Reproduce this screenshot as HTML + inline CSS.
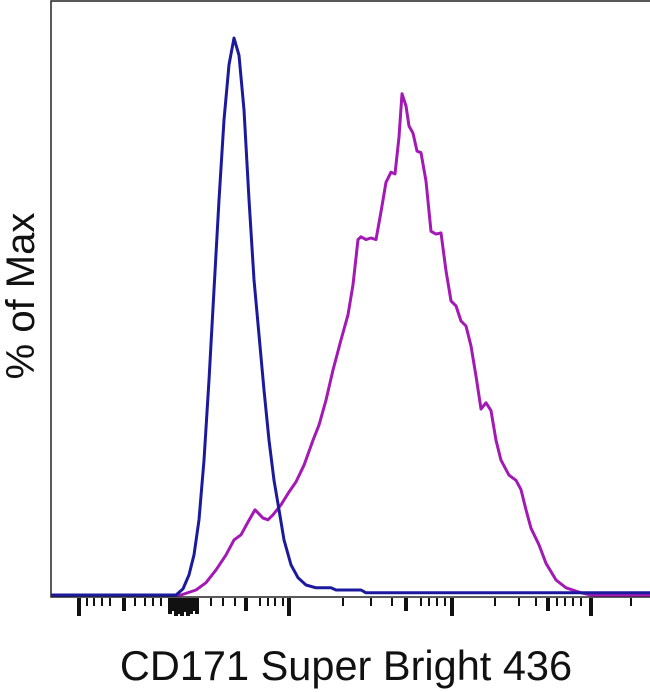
<!DOCTYPE html>
<html><head><meta charset="utf-8"><style>
html,body{margin:0;padding:0;background:#fff;width:650px;height:692px;overflow:hidden}
svg{display:block}
text{font-family:"Liberation Sans",Arial,sans-serif;fill:#111}
</style></head><body>
<svg id="chart" width="650" height="692">
<rect x="51" y="1" width="610" height="596" fill="none" stroke="#222" stroke-width="1.5"/>
<g id="ticks"></g>
<g id="series"></g>
<text x="346" y="680" font-size="41.5" text-anchor="middle">CD171 Super Bright 436</text>
<text transform="translate(34,296) rotate(-90)" font-size="40" text-anchor="middle">% of Max</text>
</svg>
<script>
// channel (0-600) and % of max
const blueX = [0,125,132,138,143,148,153,158,163,168,173,178,183,188,193,198,203,208,213,218,223,228,233,240,247,255,265,280,285,310,315,600];
const blueY = [0,0,1.1,3.6,7.2,13.5,24.2,38.6,54.8,70.9,85.3,95.2,100,96.9,87.1,71.0,56.6,46.7,36.8,27.8,20.6,15.3,9.9,5.4,3.1,1.8,1.3,1.3,0.9,0.9,0.4,0.4];
const magX = [0,130,145,155,165,175,183,190,197,204,212,217,222,230,238,245,253,262,268,275,282,290,297,302,307,310,315,320,325,330,335,340,344,348,351,355,358,362,366,370,375,380,385,390,395,400,405,410,415,420,425,430,435,440,445,450,458,465,470,475,480,488,495,505,515,530,540,600];
const magY = [0,0,0.9,2.2,4.5,7.2,9.9,10.8,13.1,15.3,13.8,13.5,14.4,16.2,18.5,20.3,23.3,27.8,30.5,35.0,40.4,45.8,50.3,55.7,63.8,64.3,63.8,64.1,63.8,68.8,74.1,75.9,75.6,82.2,90.0,87.8,84.2,82.9,79.7,79.4,74.3,65.3,64.8,65.0,58.2,52.8,51.9,49.2,48.3,44.7,39.3,33.4,34.5,33.1,27.8,24.2,21.5,20.6,18.9,15.3,12.0,9.0,5.7,2.7,1.3,0.4,0,0];
const tickPx = [79,87,94,102,110,124,135,145,153,161,170,173,176,179,182,185,188,191,194,197,211,223,235,246,260,268,275,283,289,343,371,392,406,421,429,437,445,452,495,519,536,548,557,565,573,581,591,631];
const tickLen = [18,8,8,8,8,13,8,8,8,8,16,13,18,16,18,14,18,16,13,16,8,8,8,13,8,8,8,8,18,8,8,8,13,8,8,8,8,18,8,8,8,13,8,8,8,8,18,8];

const x0=51, xw=600, yBase=595, yTop=38;
const sx = v => x0 + v/600*xw;
const sy = v => yBase - v/100*(yBase-yTop);
const NS="http://www.w3.org/2000/svg";
function addLine(xs, ys, color, name){
  const p=document.createElementNS(NS,"path");
  let d="";
  xs.forEach((v,i)=>{d+=(i?"L":"M")+sx(v).toFixed(1)+","+sy(ys[i]).toFixed(1);});
  p.setAttribute("d",d);
  p.setAttribute("fill","none");
  p.setAttribute("stroke",color);
  p.setAttribute("stroke-width","3");
  p.setAttribute("stroke-linejoin","round");
  
  
  document.getElementById("series").appendChild(p);
}
addLine(magX, magY, "#a319b5", "magenta-stained-histogram");
addLine(blueX, blueY, "#1c1a9c", "blue-control-histogram");
const tg=document.getElementById("ticks");
tickPx.forEach((t,i)=>{
  const r=document.createElementNS(NS,"rect");
  const big=tickLen[i]>=13;
  r.setAttribute("x", t-(big?2:1));
  r.setAttribute("y", 598);
  r.setAttribute("width", big?4:2);
  r.setAttribute("height", tickLen[i]);
  r.setAttribute("fill","#111");
  
  
  tg.appendChild(r);
});
</script>
</body></html>
